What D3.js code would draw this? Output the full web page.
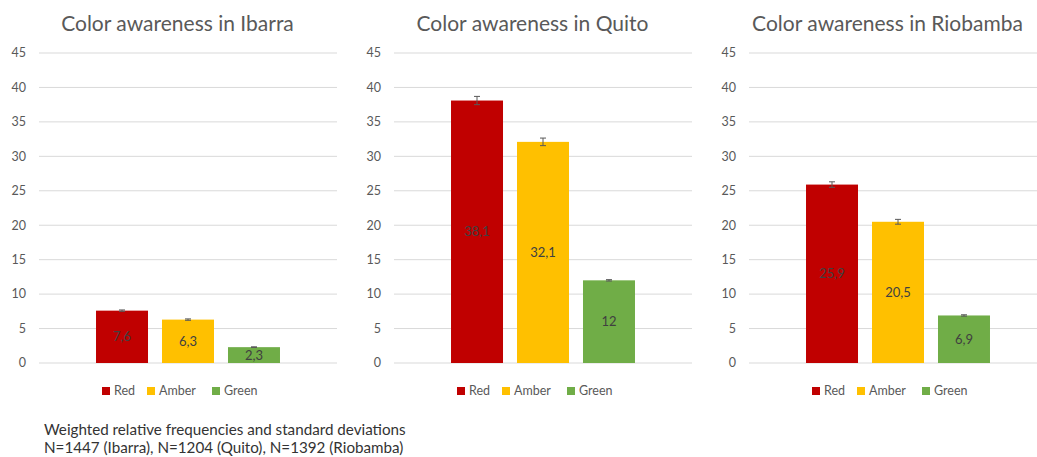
<!DOCTYPE html>
<html>
<head>
<meta charset="utf-8">
<script src="https://cdn.jsdelivr.net/npm/d3@7"></script>
<style>
  body { margin: 0; background: #fff; }
  svg { display: block; font-family: Lato, "Open Sans", sans-serif; }
</style>
</head>
<body>
<svg id="chart" width="1037" height="457"></svg>
<script>
// chart values
const cities = ["Ibarra", "Quito", "Riobamba"];
const categories = ["Red", "Amber", "Green"];
const ibarraValues = [7.6, 6.3, 2.3];
const quitoValues = [38.1, 32.1, 12];
const riobambaValues = [25.9, 20.5, 6.9];
const ibarraSD = [0.1, 0.1, 0.05];
const quitoSD = [0.6, 0.55, 0.1];
const riobambaSD = [0.4, 0.35, 0.1];
const yTicks = [0, 5, 10, 15, 20, 25, 30, 35, 40, 45];
const footnote = [
  "Weighted relative frequencies and standard deviations",
  "N=1447 (Ibarra), N=1204 (Quito), N=1392 (Riobamba)"
];

const colors = { Red: "#C00000", Amber: "#FFC000", Green: "#70AD47" };
const panelData = [
  { city: cities[0], values: ibarraValues, sd: ibarraSD },
  { city: cities[1], values: quitoValues, sd: quitoSD },
  { city: cities[2], values: riobambaValues, sd: riobambaSD }
];

const svg = d3.select("#chart");
const panelWidth = 355;
const plot = { left: 39, right: 337, top: 53, bottom: 363 };

const y = d3.scaleLinear().domain([0, 45]).range([plot.bottom, plot.top]);
const x = d3.scaleBand().domain(categories)
  .range([plot.left, plot.right])
  .paddingInner(14 / 66)
  .paddingOuter(0.864);

const fmt = v => String(v).replace(".", ",");

panelData.forEach((p, i) => {
  const g = svg.append("g").attr("transform", `translate(${i * panelWidth},0)`);

  // Title
  g.append("text")
    .attr("x", panelWidth / 2)
    .attr("y", 31)
    .attr("text-anchor", "middle")
    .style("font-size", "21px")
    .attr("fill", "#595959")
    .text(`Color awareness in ${p.city}`);

  // Gridlines + y labels
  g.selectAll(".grid")
    .data(yTicks)
    .join("line")
    .attr("x1", plot.left)
    .attr("x2", plot.right)
    .attr("y1", d => y(d))
    .attr("y2", d => y(d))
    .attr("stroke", "#d9d9d9")
    .attr("stroke-width", 1);

  g.selectAll(".ylab")
    .data(yTicks)
    .join("text")
    .attr("x", 26)
    .attr("y", d => y(d))
    .attr("dy", "0.35em")
    .attr("text-anchor", "end")
    .style("font-size", "12.5px")
    .attr("fill", "#595959")
    .text(d => d);

  const rows = categories.map((c, j) => ({ cat: c, value: p.values[j], sd: p.sd[j] }));

  // Bars
  g.selectAll(".bar")
    .data(rows)
    .join("rect")
    .attr("x", d => x(d.cat))
    .attr("width", x.bandwidth())
    .attr("y", d => y(d.value))
    .attr("height", d => y(0) - y(d.value))
    .attr("fill", d => colors[d.cat]);

  // Error bars
  const cap = 3;
  const eb = g.selectAll(".err")
    .data(rows)
    .join("g")
    .attr("stroke", "#595959")
    .attr("stroke-width", 1);
  eb.append("line")
    .attr("x1", d => x(d.cat) + x.bandwidth() / 2)
    .attr("x2", d => x(d.cat) + x.bandwidth() / 2)
    .attr("y1", d => y(d.value + d.sd))
    .attr("y2", d => y(d.value - d.sd));
  eb.append("line")
    .attr("x1", d => x(d.cat) + x.bandwidth() / 2 - cap)
    .attr("x2", d => x(d.cat) + x.bandwidth() / 2 + cap)
    .attr("y1", d => y(d.value + d.sd))
    .attr("y2", d => y(d.value + d.sd));
  eb.append("line")
    .attr("x1", d => x(d.cat) + x.bandwidth() / 2 - cap)
    .attr("x2", d => x(d.cat) + x.bandwidth() / 2 + cap)
    .attr("y1", d => y(d.value - d.sd))
    .attr("y2", d => y(d.value - d.sd));

  // Data labels
  g.selectAll(".vlab")
    .data(rows)
    .join("text")
    .attr("x", d => x(d.cat) + x.bandwidth() / 2)
    .attr("y", d => (y(d.value) + y(0)) / 2)
    .attr("dy", "0.35em")
    .attr("text-anchor", "middle")
    .style("font-size", "13px")
    .attr("fill", "#404040")
    .text(d => fmt(d.value));

  // Legend
  const legendX = [102, 147, 212];
  const lg = g.selectAll(".leg")
    .data(categories)
    .join("g")
    .attr("transform", (d, j) => `translate(${legendX[j]},387)`);
  lg.append("rect")
    .attr("width", 8)
    .attr("height", 8)
    .attr("fill", d => colors[d]);
  lg.append("text")
    .attr("x", 12)
    .attr("y", 4)
    .attr("dy", "0.35em")
    .style("font-size", "12.5px")
    .attr("fill", "#595959")
    .text(d => d);
});

// Footnote
svg.append("g")
  .selectAll("text")
  .data(footnote)
  .join("text")
  .attr("x", 44)
  .attr("y", (d, i) => 435 + i * 18)
  .style("font-size", "15.2px")
  .attr("fill", "#333333")
  .text(d => d);
</script>
</body>
</html>
